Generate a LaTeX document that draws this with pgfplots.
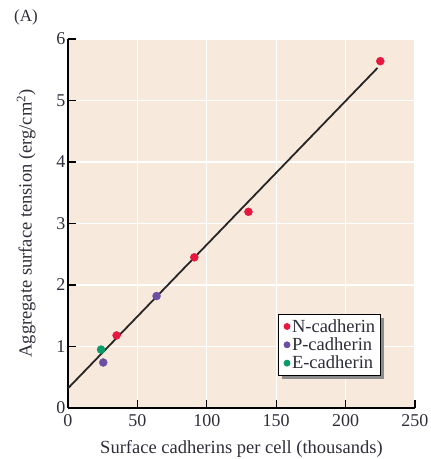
\documentclass[border=0pt]{standalone}
\usepackage{pgfplots}
\pgfplotsset{compat=1.18}
\usepackage{fontspec}
\setmainfont{Liberation Serif}
\usetikzlibrary{shadows}
\makeatletter
\tikzset{no preaction/.code={\let\tikz@preactions\pgfutil@empty}}
\makeatother
\definecolor{bg}{HTML}{F8E9DD}
\definecolor{ncad}{HTML}{E8173F}
\definecolor{pcad}{HTML}{6A4FA3}
\definecolor{ecad}{HTML}{0A9A6A}
\definecolor{txt}{HTML}{2E2E3A}
\begin{document}
\begin{tikzpicture}
\useasboundingbox (-68pt,-51pt) rectangle (363pt,408pt);
\begin{axis}[
  at={(0pt,0pt)}, anchor=south west,
  scale only axis, width=347pt, height=369pt,
  xmin=0, xmax=250, ymin=0, ymax=6,
  axis x line*=bottom, axis y line*=left,
  axis line style={-, line width=1.2pt, black},
  axis background/.style={fill=bg},
  xtick={0,50,...,250}, ytick={0,1,...,6},
  tick align=inside, major tick length=8pt,
  tick style={line width=1.2pt, black},
  grid=major, major grid style={white, line width=1.2pt},
  /pgf/number format/assume math mode=true,
  ticklabel style={font=\fontsize{18}{19}\selectfont, text=txt},
  xticklabel style={yshift=-3pt},
  yticklabel style={xshift=1pt},
  label style={font=\fontsize{18.5}{20}\selectfont, text=txt},
  xlabel={Surface cadherins per cell (thousands)},
  ylabel={Aggregate surface tension (erg/cm\textsuperscript{2})},
  xlabel style={yshift=-7pt},
  ylabel style={yshift=14pt},
  legend style={at={(0.605,0.255)}, anchor=north west, draw=black, line width=0.8pt,
    fill=white, font=\fontsize{18.5}{19}\selectfont, text=txt,
    drop shadow={shadow xshift=4pt, shadow yshift=-4pt, fill=black!45, opacity=1},
    row sep=0pt, inner xsep=3pt, inner ysep=3pt},
  legend cell align=left,
  legend image code/.code={\path[draw=none,fill=none,no preaction] (0cm,-0.1cm) rectangle (0.3cm,0.1cm); \path[#1, draw=none, fill=none, no preaction] plot[only marks, mark=*, mark size=3pt] coordinates {(0.2cm,0cm)};},
]
\addplot[line width=1.8pt, color=black!85, forget plot] coordinates {(0,0.32) (223,5.53)};
\addplot[only marks, mark=*, mark size=4pt, color=ncad, mark options={draw=none, fill=ncad}] coordinates {(35,1.18) (91,2.45) (130,3.19) (225,5.64)};
\addlegendentry{N-cadherin}
\addplot[only marks, mark=*, mark size=4pt, color=pcad, mark options={draw=none, fill=pcad}] coordinates {(25.4,0.74) (63.8,1.82)};
\addlegendentry{P-cadherin}
\addplot[only marks, mark=*, mark size=4pt, color=ecad, mark options={draw=none, fill=ecad}] coordinates {(23.8,0.95)};
\addlegendentry{E-cadherin}
\end{axis}
\node[font=\fontsize{17}{18}\selectfont, text=txt] at (-42pt,391pt) {(A)};
\end{tikzpicture}
\end{document}
